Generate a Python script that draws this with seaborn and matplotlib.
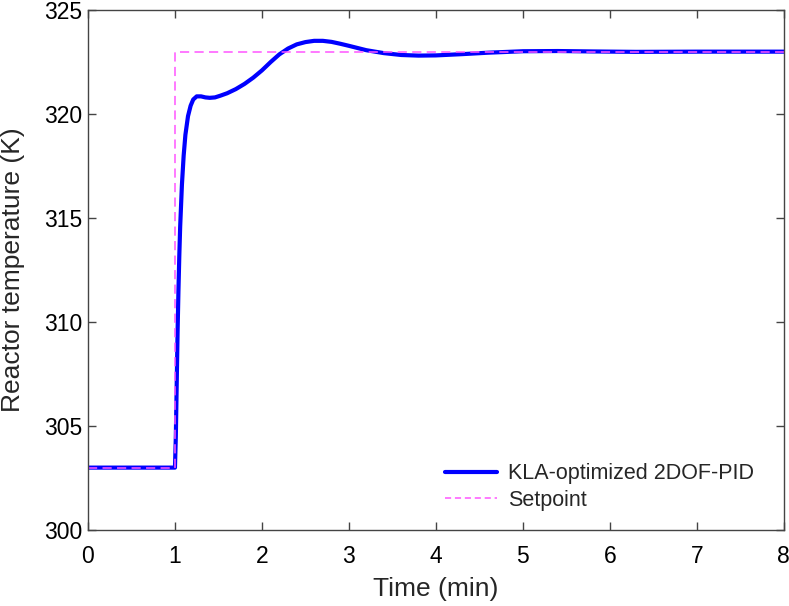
import matplotlib
matplotlib.use("Agg")
import matplotlib.pyplot as plt
import seaborn as sns
import pandas as pd

# Data
time_pid = [0, 0.5, 1.0, 1.01, 1.02, 1.03, 1.04, 1.05, 1.06, 1.08, 1.10, 1.12, 1.15, 1.18,
            1.21, 1.25, 1.30, 1.35, 1.40, 1.46, 1.52, 1.60, 1.70, 1.80, 1.90, 2.00, 2.10,
            2.20, 2.30, 2.40, 2.50, 2.60, 2.70, 2.80, 2.90, 3.00, 3.20, 3.40, 3.60, 3.80,
            4.00, 4.30, 4.60, 5.00, 5.40, 5.80, 6.30, 7.00, 8.00]
temp_pid = [303, 303, 303, 304.5, 307.0, 309.5, 311.5, 313.2, 314.6, 316.6, 318.0, 319.0,
            319.9, 320.4, 320.7, 320.85, 320.85, 320.8, 320.78, 320.8, 320.88, 321.0, 321.2,
            321.45, 321.75, 322.1, 322.5, 322.87, 323.15, 323.35, 323.46, 323.52, 323.52,
            323.47, 323.38, 323.28, 323.07, 322.93, 322.84, 322.81, 322.82, 322.88, 322.95,
            323.02, 323.03, 323.01, 322.99, 323.0, 323.0]
time_sp = [0, 1, 1, 8]
temp_sp = [303, 303, 323, 323]

label_pid = "KLA-optimized 2DOF-PID"
label_sp = "Setpoint"

sns.set_theme(style="ticks")
plt.rcParams['font.family'] = ['Liberation Sans', 'DejaVu Sans']

fig = plt.figure(figsize=(7.89, 6.06), dpi=100)
ax = fig.add_axes([0.1115, 0.1254, 0.882, 0.858])

df_pid = pd.DataFrame({"t": time_pid, "T": temp_pid})
df_sp = pd.DataFrame({"t": time_sp, "T": temp_sp})

sns.lineplot(data=df_pid, x="t", y="T", ax=ax, color="#0000FF", linewidth=3.0,
             estimator=None, sort=False, label=label_pid)
sns.lineplot(data=df_sp, x="t", y="T", ax=ax, color="#FF55FF", linewidth=1.1,
             estimator=None, sort=False, label=label_sp, dashes=False)
ax.lines[-1].set_linestyle((0, (6, 3.5)))

ax.set_xlim(0, 8)
ax.set_ylim(300, 325)
ax.set_xticks(range(0, 9))
ax.set_yticks(range(300, 326, 5))
ax.set_xlabel("Time (min)", fontsize=19, labelpad=6)
ax.set_ylabel("Reactor temperature (K)", fontsize=19, labelpad=14)
ax.tick_params(direction="in", length=6, width=1, colors="#444444", labelcolor="black",
               labelsize=16.5, top=True, right=True)
ax.tick_params(axis="x", pad=11)
ax.tick_params(axis="y", pad=4)
for s in ax.spines.values():
    s.set_color("#444444")
    s.set_linewidth(1.0)

leg = ax.legend(loc="lower right", bbox_to_anchor=(0.985, 0.0), frameon=False,
                fontsize=15.5, handlelength=2.45, labelspacing=0.25, handletextpad=0.5)
leg.get_lines()[1].set_linestyle((0, (4, 2.5)))

fig.savefig("out.png", dpi=100)
